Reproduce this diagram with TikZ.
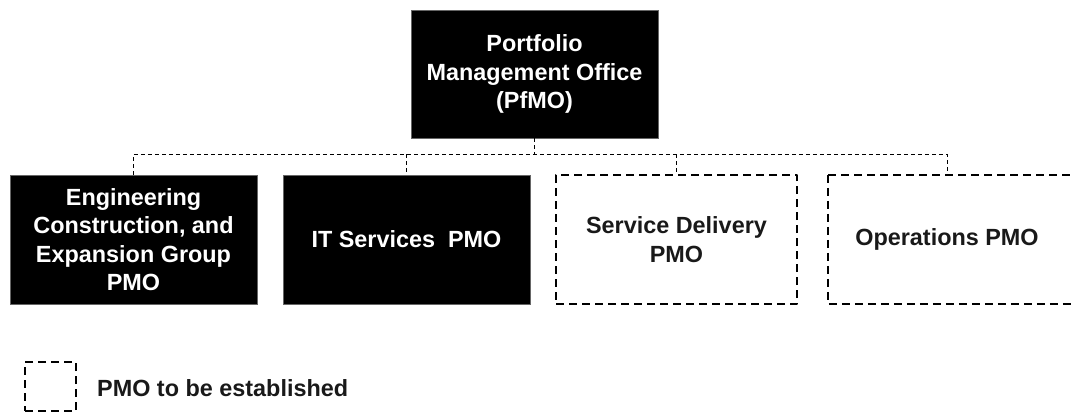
\documentclass[tikz,border=0pt]{standalone}
\usepackage{fontspec}
\setmainfont{Liberation Sans}
\begin{document}
\begin{tikzpicture}[x=1pt,y=-1pt,
  txt/.style={font=\fontsize{23.4}{28.5}\selectfont\bfseries, align=center, inner sep=0pt},
  solidbox/.style={txt, fill=black, draw=black!60, line width=0.8pt, text=white},
  dashborder/.style={draw=black, line width=2pt, dash pattern=on 8pt off 5pt, line join=round},
  planbox/.style={txt, dashborder, text=black!90},
  conn/.style={draw=black, line width=1pt, dash pattern=on 4pt off 3pt}]
\useasboundingbox (0,0) rectangle (1075,416);
\clip (0,0) rectangle (1075,416);
\node[solidbox, minimum width=247pt, minimum height=128pt] (top) at (534.5,74) {Portfolio\\Management Office\\(PfMO)};
\node[solidbox, minimum width=247pt, minimum height=129pt] (b1) at (133.5,239.5) {Engineering\\Construction, and\\Expansion Group\\PMO};
\node[solidbox, minimum width=247pt, minimum height=129pt] (b2) at (406.5,239.5) {IT Services\ \ PMO};
\node[planbox, minimum width=241pt, minimum height=129pt] (b3) at (676.5,239.5) {Service Delivery\\PMO};
\node[txt, text=black!90, minimum width=238pt, minimum height=129pt] (b4) at (947,239.5) {Operations PMO};
\draw[dashborder] (b4.north west) rectangle ++(265,129);
\coordinate (bus) at (0,154);
\draw[conn] (top.south) -- (top.south |- bus);
\draw[conn] (b1.north) -- (b1.north |- bus) -- (b4.north |- bus) -- (b4.north);
\draw[conn] (b2.north |- bus) -- (b2.north);
\draw[conn] (b3.north |- bus) -- (b3.north);
\node[planbox, minimum width=51pt, minimum height=49pt] (leg) at (50.5,386.5) {};
\node[txt, anchor=west, text=black!90] (legtxt) at (97,388) {PMO to be established};
\end{tikzpicture}
\end{document}
